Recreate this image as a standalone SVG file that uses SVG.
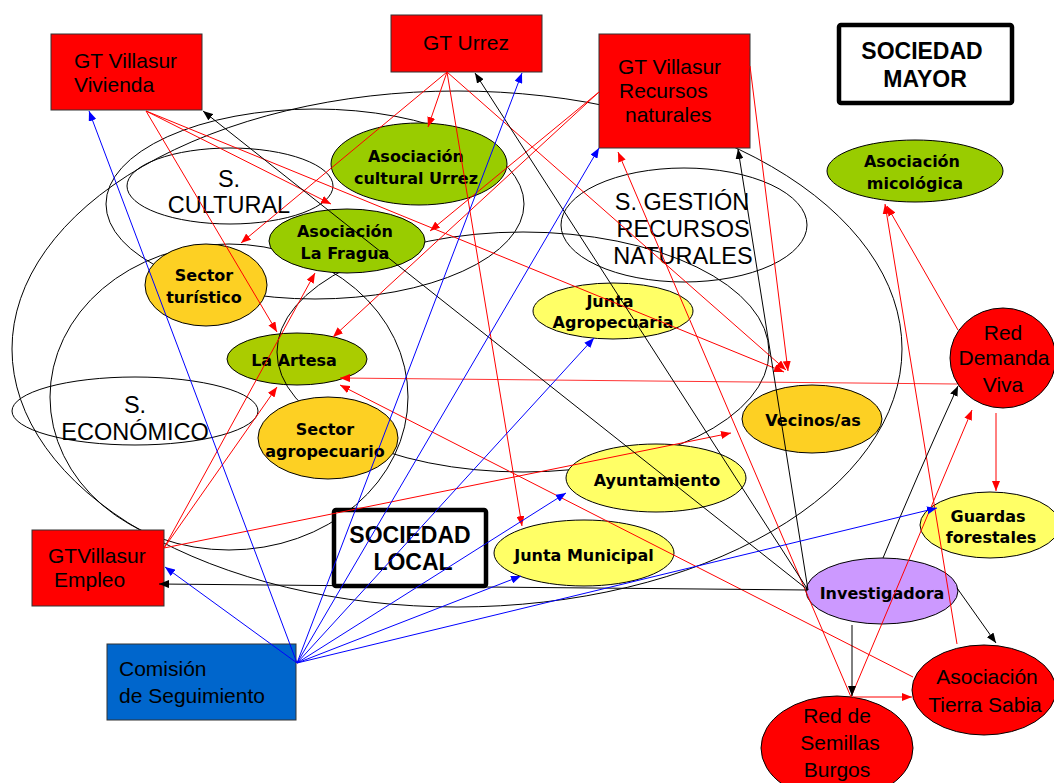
<svg xmlns="http://www.w3.org/2000/svg" width="1054" height="783" viewBox="0 0 1054 783">
<style>
.grp{fill:none;stroke:#000;stroke-width:1}
.box{fill:#f00;stroke:#333;stroke-width:1}
.frame{fill:#fff;stroke:#000;stroke-width:4.5}
.nd{stroke:#000;stroke-width:1}
.g{fill:#99cc00}.g2{fill:#aacc00}.o{fill:#fdd023}.y{fill:#ffff66}.p{fill:#cc99ff}.r{fill:#f00}
.t{font-family:"Liberation Sans",Arial,sans-serif;font-size:21px;fill:#000}
.s{font-family:"Liberation Sans",Arial,sans-serif;font-size:23.5px;fill:#000;text-anchor:middle}
.b{font-family:"DejaVu Sans",Verdana,sans-serif;font-weight:bold;font-size:16px;fill:#000;text-anchor:middle}
.hb{font-family:"Liberation Sans",Arial,sans-serif;font-weight:bold;font-size:23px;fill:#000;text-anchor:middle}
.m{text-anchor:middle}
.cr{stroke:#f00;stroke-width:1;fill:none;marker-end:url(#ar)}
.ck{stroke:#000;stroke-width:1;fill:none;marker-end:url(#ak)}
.cb{stroke:#00f;stroke-width:1;fill:none;marker-end:url(#ab)}
</style>
<defs>
<marker id="ar" viewBox="0 0 10 8" refX="10" refY="4" markerWidth="10" markerHeight="8" markerUnits="userSpaceOnUse" orient="auto"><path d="M0,0L10,4L0,8z" fill="#f00"/></marker>
<marker id="ak" viewBox="0 0 10 8" refX="10" refY="4" markerWidth="10" markerHeight="8" markerUnits="userSpaceOnUse" orient="auto"><path d="M0,0L10,4L0,8z" fill="#000"/></marker>
<marker id="ab" viewBox="0 0 10 8" refX="10" refY="4" markerWidth="10" markerHeight="8" markerUnits="userSpaceOnUse" orient="auto"><path d="M0,0L10,4L0,8z" fill="#00f"/></marker>
</defs>
<rect width="1054" height="783" fill="#fff"/>

<g id="la-artesa"><ellipse class="nd g2" cx="297" cy="359" rx="70" ry="26"/><text class="b" x="294" y="366">La Artesa</text></g>

<g id="groups">
<ellipse class="grp" cx="457" cy="349" rx="445" ry="258"/>
<ellipse class="grp" cx="315" cy="204" rx="209" ry="95"/>
<ellipse class="grp" cx="229" cy="397" rx="179" ry="153"/>
<ellipse class="grp" cx="523" cy="352" rx="246" ry="120"/>
</g>

<g id="s-cultural"><ellipse class="grp" cx="230" cy="186" rx="103" ry="38"/><text class="s" x="229" y="187">S.</text><text class="s" x="229" y="213">CULTURAL</text></g>
<g id="s-gestion"><ellipse class="grp" cx="684" cy="225" rx="123" ry="57"/><text class="s" x="682" y="210">S. GESTIÓN</text><text class="s" x="683" y="237">RECURSOS</text><text class="s" x="683" y="264">NATURALES</text></g>
<g id="s-economico"><ellipse class="grp" cx="135" cy="411" rx="123" ry="34"/><text class="s" x="135" y="413">S.</text><text class="s" x="135" y="440">ECONÓMICO</text></g>

<g id="gt-vivienda"><rect class="box" x="51" y="34" width="151" height="76"/><text class="t" x="74" y="68">GT Villasur</text><text class="t" x="74" y="92">Vivienda</text></g>
<g id="gt-urrez"><rect class="box" x="391" y="15" width="151" height="57"/><text class="t" x="423" y="50">GT Urrez</text></g>
<g id="gt-recursos"><rect class="box" x="599" y="34" width="151" height="114"/><text class="t" x="618" y="74">GT Villasur</text><text class="t" x="619" y="98">Recursos</text><text class="t" x="625" y="122">naturales</text></g>
<g id="sociedad-mayor"><rect class="frame" x="839" y="25" width="173" height="78" rx="2"/><text class="hb" x="922" y="59">SOCIEDAD</text><text class="hb" x="925" y="87">MAYOR</text></g>
<g id="gt-empleo"><rect class="box" x="32" y="530" width="132" height="76"/><text class="t" x="48" y="563">GTVillasur</text><text class="t" x="54" y="587">Empleo</text></g>
<g id="comision"><rect x="107" y="644" width="189" height="76" fill="#0066cc" stroke="#333"/><text class="t" x="119" y="676">Comisión</text><text class="t" x="119" y="703">de Seguimiento</text></g>
<g id="sociedad-local"><rect class="frame" x="334" y="510" width="152" height="76" rx="2"/><text class="hb" x="410" y="543">SOCIEDAD</text><text class="hb" x="413" y="570">LOCAL</text></g>

<g id="asoc-cultural-urrez"><ellipse class="nd g" cx="419" cy="164" rx="88" ry="41"/><text class="b" x="416" y="162">Asociación</text><text class="b" x="416" y="184">cultural Urrez</text></g>
<g id="asoc-la-fragua"><ellipse class="nd g" cx="347" cy="241" rx="78" ry="32"/><text class="b" x="345" y="237">Asociación</text><text class="b" x="345" y="259">La Fragua</text></g>
<g id="sector-turistico"><ellipse class="nd o" cx="206" cy="285" rx="61" ry="41"/><text class="b" x="204" y="281">Sector</text><text class="b" x="204" y="303">turístico</text></g>
<g id="sector-agropecuario"><ellipse class="nd o" cx="328" cy="438" rx="70" ry="41"/><text class="b" x="325" y="435">Sector</text><text class="b" x="325" y="457">agropecuario</text></g>
<g id="junta-agropecuaria"><ellipse class="nd y" cx="613" cy="311" rx="80" ry="28"/><text class="b" x="610" y="307">Junta</text><text class="b" x="613" y="328">Agropecuaria</text></g>
<g id="vecinos"><ellipse class="nd o" cx="812" cy="419" rx="70" ry="34"/><text class="b" x="813" y="426">Vecinos/as</text></g>
<g id="ayuntamiento"><ellipse class="nd y" cx="656" cy="478" rx="90" ry="34"/><text class="b" x="657" y="486">Ayuntamiento</text></g>
<g id="junta-municipal"><ellipse class="nd y" cx="584" cy="553" rx="90" ry="33"/><text class="b" x="584" y="561">Junta Municipal</text></g>
<g id="asoc-micologica"><ellipse class="nd g" cx="915" cy="171" rx="88" ry="31"/><text class="b" x="912" y="167">Asociación</text><text class="b" x="915" y="189">micológica</text></g>
<g id="red-demanda-viva"><ellipse class="nd r" cx="1003" cy="358" rx="53" ry="50"/><text class="t m" x="1003" y="340">Red</text><text class="t m" x="1004" y="365">Demanda</text><text class="t m" x="1003" y="392">Viva</text></g>
<g id="guardas-forestales"><ellipse class="nd y" cx="990" cy="525" rx="70" ry="33"/><text class="b" x="988" y="522">Guardas</text><text class="b" x="991" y="543">forestales</text></g>
<g id="investigadora"><ellipse class="nd p" cx="882" cy="591" rx="76" ry="33"/><text class="b" x="882" y="599">Investigadora</text></g>
<g id="tierra-sabia"><ellipse class="nd r" cx="984" cy="690" rx="72" ry="45"/><text class="t m" x="987" y="684">Asociación</text><text class="t m" x="985" y="712">Tierra Sabia</text></g>
<g id="red-semillas"><ellipse class="nd r" cx="837" cy="748" rx="76" ry="52"/><text class="t m" x="837" y="723">Red de</text><text class="t m" x="840" y="750">Semillas</text><text class="t m" x="837" y="777">Burgos</text></g>

<g id="connectors">
<path class="cr" d="M146,111L331,204"/>
<path class="cr" d="M146,111L784,372"/>
<path class="cr" d="M146,111L277,332"/>
<path class="cr" d="M447,72L428,127"/>
<path class="cr" d="M447,72L241,243"/>
<path class="cr" d="M447,72L522,526"/>
<path class="cr" d="M447,72L786,370"/>
<path class="cr" d="M599,92L430,231"/>
<path class="cr" d="M599,92L333,337"/>
<path class="cr" d="M750,66L788,371"/>
<path class="cr" d="M851,697L618,152"/>
<path class="cr" d="M851,697L972,410"/>
<path class="cr" d="M853,697L912,697"/>
<path class="cr" d="M913,677L340,385"/>
<path class="cr" d="M957,644L885,204"/>
<path class="cr" d="M958,330L887,206"/>
<path class="cr" d="M996,413L996,491"/>
<path class="cr" d="M957,384L340,378" stroke-opacity="0.8"/>
<path class="cr" d="M164,548L277,387"/>
<path class="cr" d="M164,548L315,273"/>
<path class="cr" d="M164,548L731,433"/>
<path class="ck" d="M808,590L159,584"/>
<path class="ck" d="M808,590L203,111"/>
<path class="ck" d="M808,590L475,73"/>
<path class="ck" d="M808,590L738,149"/>
<path class="ck" d="M883,558Q915,480 958,386"/>
<path class="ck" d="M957,588L996,643"/>
<path class="ck" d="M852,625L852,696"/>
<path class="cb" d="M297,663L165,567"/>
<path class="cb" d="M297,663L89,111"/>
<path class="cb" d="M297,663L522,73"/>
<path class="cb" d="M297,663L599,148"/>
<path class="cb" d="M297,663L594,338"/>
<path class="cb" d="M297,663L566,493"/>
<path class="cb" d="M297,663L521,576"/>
<path class="cb" d="M297,663L937,508"/>
</g>
</svg>
